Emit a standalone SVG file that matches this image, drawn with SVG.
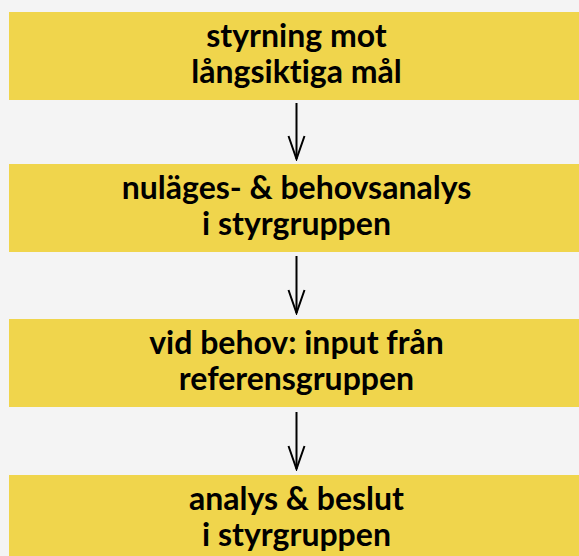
<svg xmlns="http://www.w3.org/2000/svg" width="579" height="556" viewBox="0 0 579 556">
<defs>
<style>
.box{fill:#f0d54c;}
.t{font-family:Lato,"Liberation Sans",sans-serif;font-weight:bold;font-size:32px;fill:#000;text-anchor:middle;font-variant-ligatures:none;}
.c{stroke:#000;stroke-width:2;fill:none;}
</style>
<marker id="ah" viewBox="0 0 26 20" refX="24" refY="10" markerWidth="26" markerHeight="20" markerUnits="userSpaceOnUse" orient="auto">
<path d="M1 2 L24 10 L1 18" fill="none" stroke="#000" stroke-width="2"/>
</marker>
</defs>
<rect width="579" height="556" fill="#f4f4f4"/>
<g id="n1"><rect class="box" x="9" y="12" width="580" height="88"/><text class="t" x="296.5" y="46.5">styrning mot</text><text class="t" x="296.5" y="82.5">långsiktiga mål</text></g>
<g id="n2"><rect class="box" x="9" y="164" width="580" height="88"/><text class="t" x="296.5" y="198.5">nuläges- &amp; behovsanalys</text><text class="t" x="296.5" y="234.5">i styrgruppen</text></g>
<g id="n3"><rect class="box" x="9" y="319" width="580" height="88"/><text class="t" x="296.5" y="353.5">vid behov: input från</text><text class="t" x="296.5" y="389.5">referensgruppen</text></g>
<g id="n4"><rect class="box" x="9" y="475" width="580" height="88"/><text class="t" x="296.5" y="509.5">analys &amp; beslut</text><text class="t" x="296.5" y="545.5">i styrgruppen</text></g>
<g id="connectors">
<path class="c" d="M296.5 103 V159" marker-end="url(#ah)"/>
<path class="c" d="M296.5 256 V313" marker-end="url(#ah)"/>
<path class="c" d="M296.5 412 V469" marker-end="url(#ah)"/>
</g>
</svg>
